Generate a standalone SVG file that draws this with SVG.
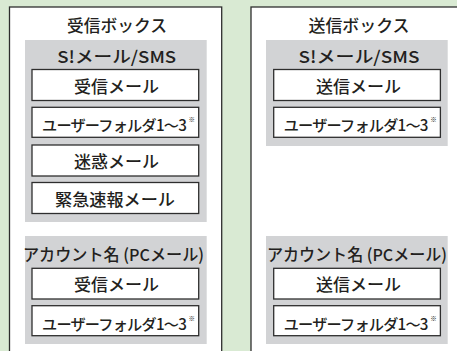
<svg xmlns="http://www.w3.org/2000/svg" width="457" height="351" viewBox="0 0 457 351">
<style>
.bg{fill:#d9ead3}
.outer{fill:#ffffff;stroke:#2e2e2e;stroke-width:1.3}
.grp{fill:#d2d3d5}
.box{fill:#ffffff;stroke:#2e2e2e;stroke-width:1.3}
text{font-family:"Noto Sans CJK JP","Noto Sans",sans-serif;font-weight:500;fill:#231f20;text-anchor:middle}
.t{font-size:16.5px}
.b{font-size:16.5px}
.u{font-size:15.2px;letter-spacing:-0.8px;text-anchor:start}
.n{font-size:6.5px;font-weight:400;letter-spacing:0}
</style>
<rect class="bg" x="0" y="0" width="457" height="351"/>
<g id="connectors"/>
<g id="inbox">
<rect class="outer" x="9.5" y="7" width="212.2" height="360"/>
<text class="t" x="117" y="32" textLength="100" lengthAdjust="spacingAndGlyphs">受信ボックス</text>
</g>
<g id="outbox">
<rect class="outer" x="251" y="7" width="230" height="360"/>
<text class="t" x="359" y="32" textLength="101" lengthAdjust="spacingAndGlyphs">送信ボックス</text>
</g>
<g id="in-sms">
<rect class="grp" x="25" y="40" width="181.7" height="182"/>
<text class="t" x="116.7" y="63" textLength="119" lengthAdjust="spacingAndGlyphs">S!メール/SMS</text>
</g>
<g id="in-sms-recv">
<rect class="box" x="32" y="69.5" width="166.7" height="31"/>
<text class="b" x="116.5" y="92.5" textLength="85" lengthAdjust="spacingAndGlyphs">受信メール</text>
</g>
<g id="in-sms-user">
<rect class="box" x="32" y="107.3" width="166.7" height="30"/>
<text class="u" x="42" y="131">ユーザーフォルダ1～3<tspan class="n" dx="2.5" dy="-9">※</tspan></text>
</g>
<g id="in-sms-spam">
<rect class="box" x="32" y="145" width="166.7" height="31"/>
<text class="b" x="116.5" y="167.5" textLength="85" lengthAdjust="spacingAndGlyphs">迷惑メール</text>
</g>
<g id="in-sms-emergency">
<rect class="box" x="32" y="182.5" width="166.7" height="31"/>
<text class="b" x="115" y="206" textLength="120" lengthAdjust="spacingAndGlyphs">緊急速報メール</text>
</g>
<g id="in-pc">
<rect class="grp" x="25" y="236" width="181.7" height="108"/>
<text class="t" x="113.5" y="260.5" textLength="181" lengthAdjust="spacingAndGlyphs">アカウント名 (PCメール)</text>
</g>
<g id="in-pc-recv">
<rect class="box" x="32" y="268.3" width="166.7" height="30.7"/>
<text class="b" x="116.5" y="291" textLength="85" lengthAdjust="spacingAndGlyphs">受信メール</text>
</g>
<g id="in-pc-user">
<rect class="box" x="32" y="305.7" width="166.7" height="30"/>
<text class="u" x="42" y="329.5">ユーザーフォルダ1～3<tspan class="n" dx="2.5" dy="-9">※</tspan></text>
</g>
<g id="out-sms">
<rect class="grp" x="266" y="40" width="181.7" height="106"/>
<text class="t" x="359" y="63" textLength="121" lengthAdjust="spacingAndGlyphs">S!メール/SMS</text>
</g>
<g id="out-sms-sent">
<rect class="box" x="273.7" y="69.5" width="166.7" height="31"/>
<text class="b" x="358.5" y="92.5" textLength="85" lengthAdjust="spacingAndGlyphs">送信メール</text>
</g>
<g id="out-sms-user">
<rect class="box" x="273.7" y="107.3" width="166.7" height="30"/>
<text class="u" x="283.7" y="131">ユーザーフォルダ1～3<tspan class="n" dx="2.5" dy="-9">※</tspan></text>
</g>
<g id="out-pc">
<rect class="grp" x="266" y="236" width="181.7" height="108"/>
<text class="t" x="357" y="260.5" textLength="180" lengthAdjust="spacingAndGlyphs">アカウント名 (PCメール)</text>
</g>
<g id="out-pc-sent">
<rect class="box" x="273.7" y="268.3" width="166.7" height="30.7"/>
<text class="b" x="358.5" y="291" textLength="85" lengthAdjust="spacingAndGlyphs">送信メール</text>
</g>
<g id="out-pc-user">
<rect class="box" x="273.7" y="305.7" width="166.7" height="30"/>
<text class="u" x="283.7" y="329.5">ユーザーフォルダ1～3<tspan class="n" dx="2.5" dy="-9">※</tspan></text>
</g>
</svg>
